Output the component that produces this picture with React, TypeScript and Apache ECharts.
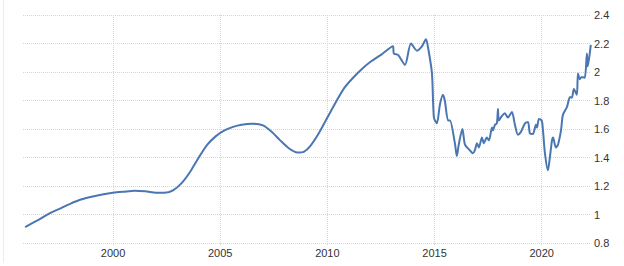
import React, { useEffect, useRef } from "react";
import * as echarts from "echarts";

const years: number[] = [
  1995.9, 1996.5, 1997.0, 1997.5, 1998.0, 1998.5, 1999.0, 1999.5, 2000.0, 2000.5,
  2001.0, 2001.5, 2002.0, 2002.4, 2002.8, 2003.2, 2003.6, 2004.0, 2004.4, 2004.8,
  2005.2, 2005.6, 2006.0, 2006.5, 2007.0, 2007.4, 2007.8, 2008.2, 2008.6, 2008.9,
  2009.2, 2009.6, 2010.0, 2010.4, 2010.8, 2011.2, 2011.6, 2012.0, 2012.5, 2013.06,
  2013.1, 2013.3, 2013.62, 2013.9, 2014.18, 2014.41, 2014.6, 2014.7, 2014.88, 2014.97,
  2015.11, 2015.25, 2015.39, 2015.48, 2015.63, 2015.72, 2015.95, 2016.04, 2016.14, 2016.3,
  2016.42, 2016.65, 2016.79, 2016.88, 2016.98, 2017.07, 2017.21, 2017.3, 2017.44, 2017.54,
  2017.68, 2017.72, 2017.82, 2017.91, 2017.96, 2018.0, 2018.14, 2018.28, 2018.42, 2018.61,
  2018.75, 2018.89, 2019.03, 2019.22, 2019.36, 2019.45, 2019.59, 2019.73, 2019.78, 2019.87,
  2020.0, 2020.06, 2020.15, 2020.29, 2020.38, 2020.48, 2020.53, 2020.66, 2020.76, 2020.9,
  2020.99, 2021.18, 2021.32, 2021.41, 2021.5, 2021.64, 2021.69, 2021.78, 2021.87, 2022.01,
  2022.11, 2022.15, 2022.29,
];

const values: number[] = [
  0.912, 0.96, 1.005, 1.04, 1.075, 1.105, 1.125, 1.14, 1.152, 1.16,
  1.167, 1.163, 1.153, 1.152, 1.17, 1.22, 1.3, 1.4, 1.49, 1.55,
  1.59, 1.615, 1.63, 1.637, 1.625, 1.58, 1.52, 1.465, 1.435, 1.44,
  1.48, 1.57, 1.68, 1.79, 1.89, 1.96, 2.02, 2.07, 2.12, 2.18,
  2.13, 2.12, 2.05, 2.2, 2.15, 2.18, 2.23, 2.17, 1.99, 1.68,
  1.64, 1.77, 1.84, 1.8, 1.66, 1.66, 1.5, 1.41, 1.5, 1.6,
  1.49, 1.45, 1.43, 1.45, 1.5, 1.47, 1.54, 1.5, 1.54, 1.52,
  1.61, 1.59, 1.63, 1.64, 1.74, 1.66, 1.69, 1.71, 1.68, 1.72,
  1.63, 1.56, 1.58, 1.64, 1.65, 1.57, 1.565, 1.63, 1.61, 1.67,
  1.66, 1.59, 1.43, 1.31, 1.4, 1.52, 1.54, 1.47, 1.49, 1.59,
  1.7, 1.755, 1.825, 1.82, 1.88, 1.84, 1.99, 1.95, 1.965, 1.96,
  2.13, 2.04, 2.19,
];

const xTickYears: number[] = [2000, 2005, 2010, 2015, 2020];

export default function App() {
  const ref = useRef<HTMLDivElement>(null);
  useEffect(() => {
    if (!ref.current) return;
    const chart = echarts.init(ref.current, null, { renderer: "svg" });
    const font = "'Liberation Sans Narrow', 'Liberation Sans', Arial, sans-serif";
    const grid = { color: "#d6d6d6", type: "dotted" as const, width: 1 };
    chart.setOption({
      animation: false,
      backgroundColor: "#ffffff",
      grid: { left: 23, right: 33, top: 15, bottom: 23, containLabel: false },
      xAxis: {
        type: "value",
        min: 1995.8,
        max: 2022.3,
        axisLine: { show: false },
        axisTick: { show: true, customValues: xTickYears, length: 2, lineStyle: { color: "#d6d6d6" } },
        axisLabel: {
          customValues: xTickYears,
          color: "#333",
          fontFamily: font,
          fontSize: 11,
          margin: 4,
          formatter: (v: number) => String(Math.round(v)),
        },
        splitLine: { show: true, lineStyle: grid },
      },
      yAxis: {
        type: "value",
        position: "right",
        min: 0.8,
        max: 2.4,
        interval: 0.2,
        axisLine: { show: false },
        axisTick: { show: false },
        axisLabel: {
          color: "#333",
          fontFamily: font,
          fontSize: 11,
          margin: 3,
          formatter: (v: number) => String(Math.round(v * 10) / 10),
        },
        splitLine: { show: true, lineStyle: grid },
      },
      graphic: [
        {
          type: "line",
          shape: { x1: 3.5, y1: 0, x2: 3.5, y2: 263 },
          style: { stroke: "#ececec", lineWidth: 1 },
          silent: true,
        },
      ],
      series: [
        {
          type: "line",
          data: years.map((y, i) => [y, values[i]]),
          showSymbol: false,
          smooth: 0.25,
          lineStyle: { color: "#4a76b2", width: 2 },
          itemStyle: { color: "#4a76b2" },
        },
      ],
    });
    return () => chart.dispose();
  }, []);
  return (
    <div
      ref={ref}
      style={{ position: "fixed", left: 0, top: 0, width: 624, height: 266, background: "#fff" }}
    />
  );
}
